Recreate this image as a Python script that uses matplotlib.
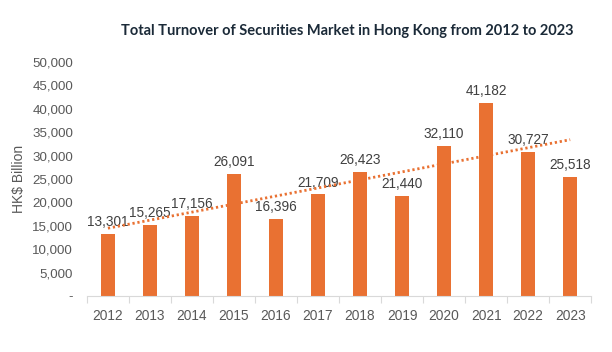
import matplotlib
matplotlib.use("Agg")
import matplotlib.pyplot as plt
import numpy as np
from matplotlib.ticker import FuncFormatter, FixedLocator

years = ["2012", "2013", "2014", "2015", "2016", "2017", "2018", "2019", "2020", "2021", "2022", "2023"]
turnover = [13301, 15265, 17156, 26091, 16396, 21709, 26423, 21440, 32110, 41182, 30727, 25518]
yticks = [0, 5000, 10000, 15000, 20000, 25000, 30000, 35000, 40000, 45000, 50000]

orange = "#E97132"
plt.rcParams['font.family'] = ['Liberation Sans', 'DejaVu Sans']

fig = plt.figure(figsize=(6.12, 3.52), dpi=100)
ax = fig.add_axes([0.142, 0.159, 0.824, 0.665])

x = np.arange(len(years))
ax.bar(x, turnover, width=0.32, color=orange, zorder=2)

for xi, v in zip(x, turnover):
    ax.annotate(f"{v:,}", (xi, v), xytext=(0, 3.5), textcoords="offset points",
                ha="center", va="bottom", fontsize=9.8, color="#404040")

# linear trend line
k, b = np.polyfit(x, turnover, 1)
ax.plot(x, k * x + b, linestyle=(0, (0.8, 1.0)), color=orange, linewidth=2.0, zorder=3)

ax.set_xlim(-0.5, len(years) - 0.5)
ax.set_ylim(0, 50000)
ax.set_xticks(x)
ax.set_xticklabels(years)
ax.xaxis.set_minor_locator(FixedLocator(np.arange(-0.5, len(years), 1.0)))
ax.tick_params(axis="x", which="major", length=0, pad=9, labelsize=9.9, labelcolor="#595959")
ax.tick_params(axis="x", which="minor", length=5, color="#D9D9D9", width=0.8)
ax.set_yticks(yticks)
ax.yaxis.set_major_formatter(FuncFormatter(lambda v, p: "-" if v == 0 else f"{int(v):,}"))
ax.tick_params(axis="y", length=0, pad=10, labelsize=9.6, labelcolor="#595959")

for s in ["top", "right", "left"]:
    ax.spines[s].set_visible(False)
ax.spines["bottom"].set_color("#D9D9D9")
ax.spines["bottom"].set_linewidth(0.8)

ax.set_ylabel("HK$ Billion", fontsize=10, color="#595959", va="center")
ax.yaxis.set_label_coords(-0.135, 0.5)

fig.text(0.567, 0.912, "Total Turnover of Securities Market in Hong Kong from 2012 to 2023",
         ha="center", va="center", fontsize=10.5, fontweight="bold", color="#1B2A38",
         family=["Lato", "DejaVu Sans"])

fig.savefig("out.png", dpi=100)
